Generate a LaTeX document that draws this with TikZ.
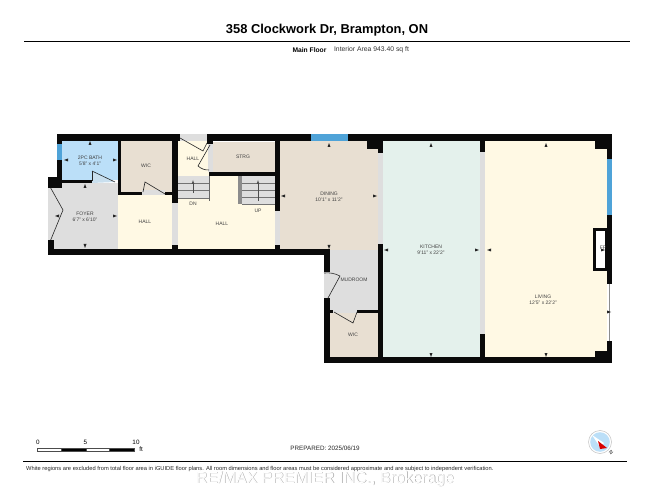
\documentclass[tikz,border=0pt]{standalone}
\usepackage{fontspec}
\setmainfont{Liberation Sans}
\definecolor{wallblack}{HTML}{0A0A0A}
\definecolor{glass}{HTML}{4FA3D8}
\definecolor{bathblue}{HTML}{BBDFF8}
\definecolor{beige}{HTML}{E8DFD2}
\definecolor{cream}{HTML}{FFF9E4}
\definecolor{mint}{HTML}{E4F1EC}
\definecolor{floorgrey}{HTML}{DEDEDE}
\begin{document}
\begin{tikzpicture}[
        x=1pt,
        y=-1pt,
        room/.style={font=\fontsize{5}{5.6}\selectfont, text=black!75, align=center, inner sep=0pt},
        door/.style={draw=black!85, line width=0.6pt},
        tread/.style={draw=black!55, line width=0.4pt},
        wall/.style={fill=wallblack},
        rule/.style={draw=black, line width=0.9pt}
      ]
      \useasboundingbox (0,0) rectangle (650,502);
      % floors
      \fill[bathblue] (62,141) rectangle (118,180);
      \fill[floorgrey] (48,183) rectangle (118,249);
      \fill[bathblue!60!floorgrey] (92,172) -- (115,182) -- (92,183) -- cycle;
      \fill[beige] (121,141) rectangle (172,192);
      \fill[cream] (118,195) rectangle (172,249);
      \fill[floorgrey] (142,190) rectangle (165,195);
      \fill[cream] (178,141) rectangle (209,176);
      \fill[cream] (178,176) rectangle (275,249);
      \fill[floorgrey] (180,134) rectangle (207,141);
      \fill[floorgrey] (208,144) rectangle (213,172);
      \fill[beige] (213,142) rectangle (275,172);
      \fill[floorgrey] (172,203) rectangle (178,245);
      \fill[floorgrey] (275,211) rectangle (280,245);
      \fill[beige] (280,141) rectangle (378,250);
      \fill[floorgrey] (378,153) rectangle (383,244);
      \fill[mint] (383,141) rectangle (480,357);
      \fill[floorgrey] (480,152) rectangle (485,334);
      \fill[cream] (485,141) rectangle (607,357);
      \fill[floorgrey] (330,250) rectangle (378,311);
      \fill[floorgrey] (324,272) rectangle (330,298);
      \fill[floorgrey] (333,309) rectangle (357,313);
      \fill[beige] (330,313) rectangle (378,357);
      % stairs
      \fill[floorgrey] (178,176) rectangle (209,198);
      \fill[floorgrey] (238,176) rectangle (275,204);
      \fill[black!45] (238,176) rectangle (242,204);
      \draw[black!60, line width=0.8pt] (209,176) -- (209,201);
      \foreach \y in {183.5,190.7,198} {
        \draw[tread] (178,\y) -- (209,\y);
      }
      \foreach \y in {183.5,190.7,197.5,204} {
        \draw[tread] (242,\y) -- (275,\y);
      }
      \draw[-latex, black!70, line width=0.4pt] (193,193) -- (193,180);
      \draw[-latex, black!70, line width=0.4pt] (258,201) -- (258,180);
      % walls
      \foreach \a/\b/\c/\d in {
        57/134/180/141, 207/134/612/141, 57/134/62/183, 48/177/62/188,
        57/180/92/183, 48/240/54/255, 48/249/330/255, 118/141/121/195,
        118/192/142/195, 165/192/172/195, 172/134/178/203, 172/245/178/250,
        207/134/213/144, 209/172/280/176, 275/134/280/211, 275/245/280/250,
        367/134/383/149, 378/134/383/153, 378/244/383/363, 480/134/485/152,
        480/334/485/363, 595/134/612/149, 607/134/612/159, 607/215/612/284,
        595/351/612/357, 607/341/612/363, 324/357/612/363, 324/250/330/272,
        324/298/330/363, 330/310/333/313, 357/310/378/313} {
        \fill[wall] (\a,\b) rectangle (\c,\d);
      }
      % fireplace
      \fill[wall] (593,228) rectangle (607,271);
      \fill[white] (596,231) rectangle (604.5,268);
      % windows
      \fill[glass] (57,144) rectangle (62,160);
      \fill[glass] (311,134) rectangle (348,141);
      \fill[glass] (607,159) rectangle (612,215);
      \fill[white] (607,284) rectangle (612,341);
      \draw[black!45, line width=1pt] (609,284) -- (609,341);
      % doors
      \draw[door] (50.7,188) -- (63,210) -- (50.7,240);
      \draw[door] (92,171) -- (92,181);
      \draw[door] (92,171) -- (115,182);
      \draw[door] (143,192) -- (145,182) -- (165,194);
      \draw[door] (180,138) -- (203,151) -- (207,143);
      \draw[door] (210,145) -- (198,166) to[bend right=20] (209,170);
      \draw[door] (324,273) to[bend left=15] (340,276) -- (328,298);
      \draw[door] (334,312) -- (353,323) -- (357,312);
      % dimension marks
      \foreach \x/\y/\r in {
        90/143/0, 66/160/90, 115/160/-90, 85/186/0, 85/246/180, 57/216/90, 115/216/-90,
        329/145/0, 329/247/180, 283/196/90, 375/196/-90,
        431/145/0, 431/355/180, 386/250/90, 477/250/-90,
        546/145/0, 546/355/180, 489/250/90, 603/250/-90, 609/312/-90} {
        \fill[black!85, shift={(\x,\y)}, rotate=\r] (0,-2) -- (1.5,2) -- (-1.5,2) -- cycle;
      }
      % room labels
      \node[room] (bath) at (90,160.5) {2PC BATH\\5'8" x 4'1"};
      \node[room] (wicupper) at (146,166) {WIC};
      \node[room] (foyer) at (85,216.5) {FOYER\\6'7" x 6'10"};
      \node[room] (hallfoyer) at (145,222) {HALL};
      \node[room] (halltop) at (193,159) {HALL};
      \node[room] (strg) at (243,157) {STRG};
      \node[room] (dn) at (193,204) {DN};
      \node[room] (up) at (258,211) {UP};
      \node[room] (hallmain) at (222,224) {HALL};
      \node[room] (dining) at (329,196.5) {DINING\\10'1" x 11'2"};
      \node[room] (kitchen) at (431,249.5) {KITCHEN\\9'11" x 22'2"};
      \node[room] (living) at (543,299.5) {LIVING\\12'5" x 22'2"};
      \node[room] (mudroom) at (354,280) {MUDROOM};
      \node[room] (wiclower) at (353,335) {WIC};
      \node[room] (fp) at (603,248) {FP};
      % title block
      \node[font=\fontsize{12.9}{14}\bfseries\selectfont] (title) at (327,30.5) {358 Clockwork Dr, Brampton, ON};
      \draw[rule] (24,41.5) -- (630,41.5);
      \node[font=\fontsize{6.7}{7}\bfseries\selectfont, inner sep=0pt] (floorname) at (309.5,50) {Main Floor};
      \node[font=\fontsize{6.8}{7}\selectfont, text=black!80, inner sep=0pt] (area) at (371.5,50) {Interior Area 943.40 sq ft};
      % scale bar
      \foreach \a/\b/\c in {37/61/white, 61/86/black, 86/109/white, 109/134/black} {
        \filldraw[fill=\c, draw=black!70, line width=0.3pt] (\a,448) rectangle (\b,451);
      }
      \node[font=\fontsize{6.3}{7}\selectfont, inner sep=0pt] (scalezero) at (38,442) {0};
      \node[font=\fontsize{6.3}{7}\selectfont, inner sep=0pt] (scalefive) at (85.5,442) {5};
      \node[font=\fontsize{6.3}{7}\selectfont, inner sep=0pt] (scaleten) at (136,442) {10};
      \node[font=\fontsize{6.3}{7}\selectfont, inner sep=0pt] (scaleunit) at (141,449.5) {ft};
      \node[font=\fontsize{6.3}{7}\selectfont, text=black!85, inner sep=0pt] (prepared) at (325,448) {PREPARED: 2025/06/19};
      % compass
      \filldraw[fill=white, draw=black!25, line width=0.5pt] (600,442) circle (11.5);
      \fill[bathblue] (600,442) circle (9.8);
      \fill[white] (592,435) -- (604,443) -- (600,447) -- cycle;
      \fill[red!85!black] (598,441) -- (607,448) -- (600,449) -- cycle;
      \node[font=\fontsize{5}{5}\selectfont, rotate=-45, inner sep=0pt] (north) at (611,453) {N};
      % footer
      \draw[rule] (23,461) -- (627,461);
      \node[font=\fontsize{5.74}{6}\selectfont, text=black!85, anchor=west, inner sep=0pt] (footer) at (26,469) {White regions are excluded from total floor area in iGUIDE floor plans. All room dimensions and floor areas must be considered approximate and are subject to independent verification.};
      \node[font=\fontsize{16}{18}\selectfont, text=black!35, inner sep=0pt] (markshadow) at (325.6,479.6) {RE/MAX PREMIER INC., Brokerage};
      \node[font=\fontsize{16}{18}\selectfont, text=white, inner sep=0pt] (mark) at (325,479) {RE/MAX PREMIER INC., Brokerage};
      \end{tikzpicture}
\end{document}
